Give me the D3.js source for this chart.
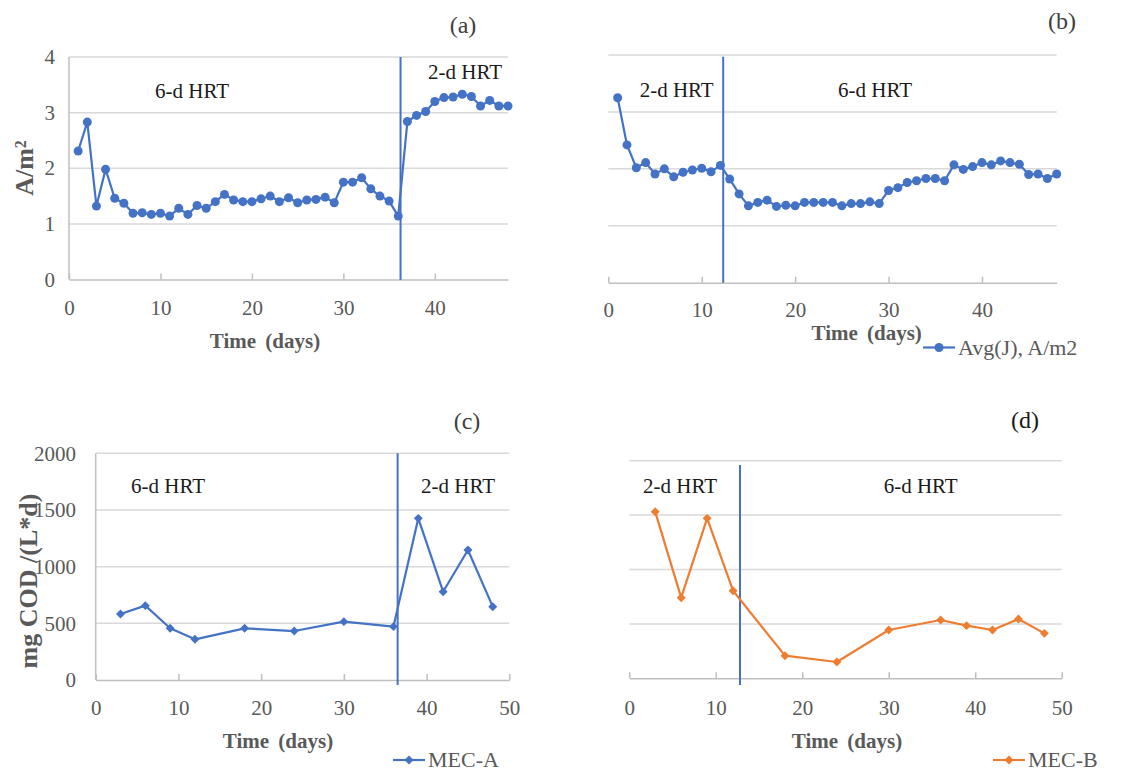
<!DOCTYPE html>
<html>
<head>
<meta charset="utf-8">
<script src="https://cdn.jsdelivr.net/npm/d3@7"></script>
<style>
  body { margin: 0; background: #fff; }
  svg text { font-family: "Liberation Serif", "Times New Roman", serif !important; }
</style>
</head>
<body>
<svg id="chart"></svg>
<script>
// current density, panels (a) and (b)
const currentDays = [1, 2, 3, 4, 5, 6, 7, 8, 9, 10, 11, 12, 13, 14, 15, 16, 17, 18, 19, 20, 21, 22, 23, 24,
  25, 26, 27, 28, 29, 30, 31, 32, 33, 34, 35, 36, 37, 38, 39, 40, 41, 42, 43, 44, 45, 46, 47, 48];
const currentA = [2.31, 2.83, 1.32, 1.98, 1.46, 1.37, 1.19, 1.20, 1.17, 1.19, 1.14, 1.28, 1.17, 1.33, 1.28, 1.40,
  1.53, 1.43, 1.40, 1.40, 1.45, 1.50, 1.40, 1.47, 1.38, 1.43, 1.44, 1.48, 1.38, 1.75, 1.75, 1.83,
  1.63, 1.50, 1.41, 1.14, 2.84, 2.95, 3.02, 3.20, 3.27, 3.28, 3.33, 3.29, 3.12, 3.22, 3.12, 3.12];
const currentB = [3.25, 2.42, 2.02, 2.11, 1.91, 2.00, 1.86, 1.94, 1.98, 2.01, 1.95, 2.06, 1.82, 1.56, 1.35, 1.41,
  1.45, 1.34, 1.36, 1.35, 1.41, 1.41, 1.41, 1.41, 1.35, 1.39, 1.39, 1.42, 1.39, 1.62, 1.67, 1.76,
  1.79, 1.83, 1.83, 1.79, 2.07, 1.99, 2.04, 2.11, 2.07, 2.14, 2.11, 2.08, 1.90, 1.91, 1.83, 1.91];

// COD removal rate, panels (c) and (d)
const codDays = [3, 6, 9, 12, 18, 24, 30, 36, 39, 42, 45, 48];
const codA = [582, 656, 456, 359, 456, 432, 515, 471, 1426, 779, 1147, 647];
const codB = [1530, 741, 1470, 805, 208, 150, 444, 536, 484, 444, 545, 413];

const currentTicks = [0, 1, 2, 3, 4];
const codTicks = [0, 500, 1000, 1500, 2000];
const dayTicksTop = [0, 10, 20, 30, 40];
const dayTicksBottom = [0, 10, 20, 30, 40, 50];

const blue = "#4472c4";
const orange = "#ed7d31";
const grid = "#d9d9d9";
const axisGray = "#bfbfbf";
const tickText = "#595959";
const serif = "Liberation Serif, Times New Roman, serif";

const panels = [
  {
    tag: "(a)", tagX: 463, tagY: 33,
    xRange: [69, 508], xMax: 48, yRange: [279.5, 57], yMax: 4,
    xTicks: dayTicksTop, yTicks: currentTicks, showY: true, yPad: 14,
    labelBase: 315, titleX: 265, titleY: 348,
    days: currentDays, values: currentA, color: blue, marker: "circle",
    split: 36.25, splitTop: 57, splitBottom: 280,
    hrt: [["6-d HRT", 192, 98], ["2-d HRT", 465, 79]],
    yTitle: "A/m", yTitleX: 33, yTitleY: 168, yTitleSize: 26
  },
  {
    tag: "(b)", tagX: 1062, tagY: 29,
    xRange: [608.3, 1056.7], xMax: 48, yRange: [282.7, 55], yMax: 4,
    xTicks: dayTicksTop, yTicks: currentTicks, showY: false,
    labelBase: 317.5, titleX: 866.7, titleY: 340,
    days: currentDays, values: currentB, color: blue, marker: "circle",
    split: 12.3, splitTop: 56.7, splitBottom: 282.7,
    hrt: [["2-d HRT", 676.7, 97], ["6-d HRT", 875, 97]],
    legend: "Avg(J), A/m2", legendX: 923, legendY: 347.5
  },
  {
    tag: "(c)", tagX: 467, tagY: 429,
    xRange: [95.7, 509.3], xMax: 50, yRange: [680, 453.3], yMax: 2000,
    xTicks: dayTicksBottom, yTicks: codTicks, showY: true, yPad: 19.7,
    labelBase: 715, titleX: 278, titleY: 748,
    days: codDays, values: codA, color: blue, marker: "diamond",
    split: 36.5, splitTop: 453.3, splitBottom: 685,
    hrt: [["6-d HRT", 168, 493], ["2-d HRT", 458, 493]],
    yTitle: "mg COD /(L*d)", yTitleX: 37, yTitleY: 581, yTitleSize: 26,
    legend: "MEC-A", legendX: 393, legendY: 760
  },
  {
    tag: "(d)", tagX: 1025, tagY: 428,
    xRange: [629.3, 1061.7], xMax: 50, yRange: [678.3, 460.7], yMax: 2000,
    xTicks: dayTicksBottom, yTicks: codTicks, showY: false,
    labelBase: 715, titleX: 847, titleY: 748,
    days: codDays, values: codB, color: orange, marker: "diamond",
    split: 12.8, splitTop: 465, splitBottom: 685,
    hrt: [["2-d HRT", 680, 493], ["6-d HRT", 920.7, 493]],
    legend: "MEC-B", legendX: 993, legendY: 760
  }
];

const svg = d3.select("#chart").attr("width", 1121).attr("height", 773);
svg.append("rect").attr("width", 1121).attr("height", 773).attr("fill", "#fff");

function drawMarker(g, marker, cx, cy, color) {
  if (marker === "circle") {
    g.append("circle").attr("cx", cx).attr("cy", cy).attr("r", 4.5).attr("fill", color);
  } else {
    g.append("path")
      .attr("d", d3.symbol(d3.symbolSquare, 40)())
      .attr("transform", "translate(" + cx + "," + cy + ") rotate(45)")
      .attr("fill", color);
  }
}

panels.forEach(function (p) {
  const x = d3.scaleLinear().domain([0, p.xMax]).range(p.xRange);
  const y = d3.scaleLinear().domain([0, p.yMax]).range(p.yRange);
  const g = svg.append("g").attr("font-family", serif);

  // gridlines
  g.selectAll(".grid")
    .data(p.yTicks.filter(function (t) { return t > 0; }))
    .enter()
    .append("line")
    .attr("x1", p.xRange[0])
    .attr("x2", p.xRange[1])
    .attr("y1", function (d) { return y(d); })
    .attr("y2", function (d) { return y(d); })
    .attr("stroke", grid)
    .attr("stroke-width", 1.5);

  // x axis with inside ticks
  const xAxis = g.append("g")
    .attr("transform", "translate(0," + p.yRange[0] + ")")
    .call(d3.axisBottom(x).tickValues(p.xTicks).tickFormat(d3.format("d"))
      .tickSize(-6).tickSizeOuter(0)
      .tickPadding(p.labelBase - p.yRange[0] - 0.71 * 21));
  xAxis.attr("font-family", serif).attr("font-size", 21);
  xAxis.select(".domain").attr("stroke", axisGray).attr("stroke-width", 1.5);
  xAxis.selectAll(".tick line").attr("stroke", axisGray).attr("stroke-width", 1.5);
  xAxis.selectAll("text").attr("fill", tickText);

  if (p.showY) {
    g.append("line")
      .attr("x1", p.xRange[0]).attr("x2", p.xRange[0])
      .attr("y1", p.yRange[0]).attr("y2", p.yRange[1])
      .attr("stroke", axisGray).attr("stroke-width", 1.5);
    const yAxis = g.append("g")
      .attr("transform", "translate(" + p.xRange[0] + ",0)")
      .call(d3.axisLeft(y).tickValues(p.yTicks).tickFormat(d3.format("d"))
        .tickSize(0).tickPadding(p.yPad));
    yAxis.attr("font-family", serif).attr("font-size", 21);
    yAxis.select(".domain").remove();
    yAxis.selectAll("text").attr("fill", tickText);

    const yt = g.append("text")
      .attr("transform", "translate(" + p.yTitleX + "," + p.yTitleY + ") rotate(-90)")
      .attr("text-anchor", "middle")
      .attr("fill", tickText)
      .attr("font-size", p.yTitleSize)
      .attr("font-weight", "bold")
      .text(p.yTitle);
    if (p.tag === "(a)") {
      yt.append("tspan").attr("dy", "-0.45em").attr("font-size", 16).text("2");
    }
  }

  // HRT split line
  g.append("line")
    .attr("x1", x(p.split)).attr("x2", x(p.split))
    .attr("y1", p.splitTop).attr("y2", p.splitBottom)
    .attr("stroke", blue).attr("stroke-width", 2);

  // series
  const pts = p.days.map(function (d, i) { return [d, p.values[i]]; });
  g.append("path")
    .datum(pts)
    .attr("fill", "none")
    .attr("stroke", p.color)
    .attr("stroke-width", 2.2)
    .attr("stroke-linejoin", "round")
    .attr("d", d3.line()
      .x(function (d) { return x(d[0]); })
      .y(function (d) { return y(d[1]); }));
  pts.forEach(function (d) {
    drawMarker(g, p.marker, x(d[0]), y(d[1]), p.color);
  });

  // texts
  p.hrt.forEach(function (h) {
    g.append("text")
      .attr("x", h[1]).attr("y", h[2])
      .attr("text-anchor", "middle")
      .attr("fill", "#1a1a1a")
      .attr("font-size", 21)
      .text(h[0]);
  });

  g.append("text")
    .attr("x", p.tagX).attr("y", p.tagY)
    .attr("text-anchor", "middle")
    .attr("fill", p.tag === "(d)" ? "#1a1a1a" : "#404040")
    .attr("font-size", 24)
    .text(p.tag);

  g.append("text")
    .attr("x", p.titleX).attr("y", p.titleY)
    .attr("text-anchor", "middle")
    .attr("fill", tickText)
    .attr("font-size", 21)
    .attr("font-weight", "bold")
    .attr("word-spacing", 4)
    .text("Time (days)");

  if (p.legend) {
    g.append("line")
      .attr("x1", p.legendX).attr("x2", p.legendX + 32)
      .attr("y1", p.legendY).attr("y2", p.legendY)
      .attr("stroke", p.color).attr("stroke-width", 2.2);
    drawMarker(g, p.marker, p.legendX + 16, p.legendY, p.color);
    g.append("text")
      .attr("x", p.legendX + 35).attr("y", p.legendY + 7)
      .attr("fill", tickText)
      .attr("font-size", 22)
      .text(p.legend);
  }
});
</script>
</body>
</html>
